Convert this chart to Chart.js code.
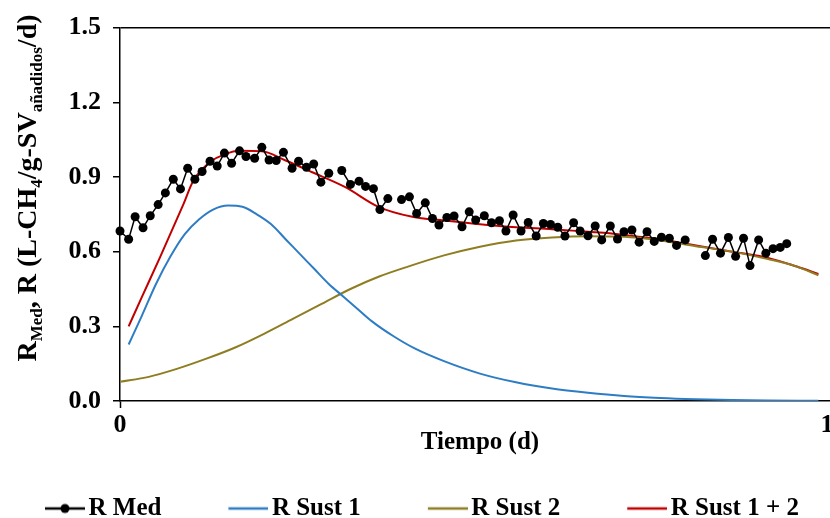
<!DOCTYPE html>
<html lang="es">
<head>
<meta charset="UTF-8">
<title>R Med y R Sust vs Tiempo</title>
<script src="https://cdn.jsdelivr.net/npm/chart.js"></script>
<style>
  html, body { margin: 0; padding: 0; background: #fff; overflow: hidden; }
  #wrap { width: 870px; height: 518px; }
</style>
</head>
<body>
<div id="wrap"><canvas id="chart"></canvas></div>
<script>
// measured rate (null = missing day)
const medDays = [0.0, 1.2, 2.1, 3.2, 4.2, 5.3, 6.3, 7.4, 8.4, 9.4, 10.4, 11.4, 12.5, 13.5, 14.5, 15.5, 16.6, 17.5, 18.7, 19.7,
  20.7, 21.7, 22.7, 23.9, 24.8, 25.9, 26.9, 27.9, 29.0, 29.9, 30.8, 32.0, 33.2, 34.1, 35.2, 36.1, 37.2, 38.1, 39.1, 40.2,
  41.2, 42.4, 43.4, 44.3, 45.4, 46.4, 47.5, 48.5, 49.4, 50.6, 51.6, 52.7, 53.6, 54.6, 55.7, 56.7, 57.8, 58.8, 59.8, 60.8,
  61.8, 63.0, 63.9, 65.0, 66.0, 66.9, 68.1, 69.1, 70.0, 71.1, 72.1, 73.2, 74.2, 75.2, 76.3, 77.3, 78.5, 79.9, 81.3, 82.3,
  83.4, 84.5, 85.5, 86.6, 87.5, 88.7, 89.7, 90.7, 91.7, 92.6];
const medValues = [0.683, 0.650, 0.740, 0.696, 0.744, 0.789, 0.836, 0.891, 0.852, 0.935, 0.891, 0.922, 0.963, 0.944, 0.996, 0.955, 1.005, 0.982, 0.975, 1.019,
  0.968, 0.966, 0.999, 0.935, 0.963, 0.939, 0.952, 0.879, 0.915, null, 0.926, 0.870, 0.883, 0.862, 0.853, 0.769, 0.813, null, 0.809, 0.820,
  0.753, 0.796, 0.733, 0.707, 0.737, 0.743, 0.700, 0.760, 0.727, 0.744, 0.716, 0.724, 0.683, 0.747, 0.683, 0.717, 0.663, 0.713, 0.709, 0.698,
  0.663, 0.716, 0.683, 0.664, 0.703, 0.647, 0.703, 0.651, 0.680, 0.687, 0.638, 0.680, 0.641, 0.658, 0.654, 0.625, 0.647, null, 0.584, 0.650,
  0.594, 0.657, 0.581, 0.654, 0.544, 0.647, 0.594, 0.612, 0.617, 0.632];

// model curves
const sust1Days = [1.2, 3, 5, 7, 9, 11, 13, 15, 17, 19, 21, 23, 25, 27, 29, 31, 33, 35, 38, 41, 45, 50, 55, 60, 65, 70, 75, 80, 85, 90, 97];
const sust1Values = [0.227, 0.34, 0.47, 0.58, 0.67, 0.73, 0.77, 0.785, 0.78, 0.75, 0.71, 0.65, 0.59, 0.53, 0.47, 0.42, 0.37, 0.32, 0.26, 0.21,
  0.16, 0.11, 0.075, 0.05, 0.033, 0.02, 0.012, 0.007, 0.004, 0.002, 0.001];
const sust2Days = [0, 4, 8, 12, 16, 20, 24, 28, 32, 36, 40, 45, 50, 55, 60, 65, 70, 75, 80, 85, 90, 94, 97];
const sust2Values = [0.077, 0.097, 0.13, 0.17, 0.215, 0.27, 0.33, 0.39, 0.45, 0.50, 0.54, 0.585, 0.62, 0.645, 0.657, 0.662, 0.66, 0.645, 0.622, 0.60, 0.57, 0.54, 0.505];
const sumDays = [1.2, 3, 5.6, 8.8, 10.2, 12.8, 14.5, 16.5, 19.7, 23, 26.7, 31.3, 35.9, 40.6, 45, 50, 55, 60, 65, 68, 72, 76, 80, 85, 90, 94, 97];
const sumValues = [0.30, 0.415, 0.58, 0.79, 0.886, 0.966, 0.99, 1.005, 1.003, 0.966, 0.919, 0.859, 0.78, 0.74, 0.725, 0.71, 0.698, 0.69, 0.68, 0.674,
  0.66, 0.645, 0.625, 0.60, 0.575, 0.54, 0.51];

const seriesNames = ['R Med', 'R Sust 1', 'R Sust 2', 'R Sust 1 + 2'];
const yTicks = [0, 0.3, 0.6, 0.9, 1.2, 1.5];
const xTicks = [0, 100];
const xTitle = 'Tiempo (d)';
// y title pieces: [text, isSubscript]
const yTitleParts = [['R', 0], ['Med', 1], [', R (L-CH', 0], ['4', 1], ['/g-SV', 0], ['añadidos', 1], ['/d)', 0]];

const toPoints = (xs, ys) => xs.map((x, i) => ({ x: x, y: ys[i] }));

const FONT = '"Liberation Serif", "Times New Roman", serif';
const LEGEND_BOX = 92;

// line (+ dot) icon for the legend, sitting at the right end of the box
function legendIcon(color, withDot) {
  const c = document.createElement('canvas');
  c.width = LEGEND_BOX + 18; c.height = 14;
  const g = c.getContext('2d');
  const x0 = c.width - 40;
  g.strokeStyle = color;
  g.lineWidth = 2.5;
  g.beginPath(); g.moveTo(x0, 7); g.lineTo(c.width, 7); g.stroke();
  if (withDot) {
    g.fillStyle = color;
    g.beginPath(); g.arc(x0 + 20, 7, 4.5, 0, Math.PI * 2); g.fill();
  }
  return c;
}

const yTitlePlugin = {
  id: 'yTitle',
  afterLayout(chart) {
    // nudge the legend row to where it sits in the original figure
    const lg = chart.legend;
    lg.left -= 22; lg.right -= 22;
    lg.top += 13; lg.bottom += 13;
  },
  afterDraw(chart) {
    const ctx = chart.ctx;
    const big = 'bold 28px ' + FONT, small = 'bold 17px ' + FONT;
    ctx.save();
    let total = 0;
    yTitleParts.forEach(p => { ctx.font = p[1] ? small : big; total += ctx.measureText(p[0]).width; });
    ctx.translate(36, 188);
    ctx.rotate(-Math.PI / 2);
    ctx.fillStyle = '#000';
    ctx.textBaseline = 'alphabetic';
    let x = -total / 2;
    yTitleParts.forEach(p => {
      ctx.font = p[1] ? small : big;
      ctx.fillText(p[0], x, p[1] ? 6 : 0);
      x += ctx.measureText(p[0]).width;
    });
    ctx.restore();
  }
};

const colors = ['#000000', '#2e7dc4', '#8f7d22', '#c00000'];

new Chart(document.getElementById('chart'), {
  type: 'line',
  data: {
    datasets: [{
      label: seriesNames[0],
      data: toPoints(medDays, medValues),
      borderColor: colors[0],
      backgroundColor: colors[0],
      borderWidth: 1.5,
      pointRadius: 4.5,
      pointBackgroundColor: colors[0],
      pointBorderWidth: 0,
      spanGaps: false,
      clip: false,
      tension: 0
    }, {
      label: seriesNames[1],
      data: toPoints(sust1Days, sust1Values),
      borderColor: colors[1],
      borderWidth: 2,
      pointRadius: 0,
      cubicInterpolationMode: 'monotone'
    }, {
      label: seriesNames[2],
      data: toPoints(sust2Days, sust2Values),
      borderColor: colors[2],
      borderWidth: 2,
      pointRadius: 0,
      cubicInterpolationMode: 'monotone'
    }, {
      label: seriesNames[3],
      data: toPoints(sumDays, sumValues),
      borderColor: colors[3],
      borderWidth: 2,
      pointRadius: 0,
      cubicInterpolationMode: 'monotone'
    }]
  },
  options: {
    responsive: true,
    maintainAspectRatio: false,
    animation: false,
    events: [],
    layout: { padding: { top: 24, right: 30, left: 0, bottom: 0 } },
    scales: {
      x: {
        type: 'linear',
        min: 0,
        max: 100,
        afterBuildTicks: s => { s.ticks = xTicks.map(v => ({ value: v })); },
        afterFit: s => { s.height = 76; },
        ticks: { color: '#000', padding: 2, maxRotation: 0, font: { family: FONT, size: 26, weight: 'bold' } },
        grid: { drawOnChartArea: false, tickLength: 7, tickColor: '#000', tickWidth: 1.5 },
        border: { color: '#000', width: 1.5 },
        title: { display: true, text: xTitle, color: '#000', padding: { top: 0, bottom: 19 }, font: { family: FONT, size: 25, weight: 'bold' } }
      },
      y: {
        min: 0,
        max: 1.5,
        afterBuildTicks: s => { s.ticks = yTicks.map(v => ({ value: v })); },
        afterFit: s => { s.width = 120; },
        ticks: { color: '#000', padding: 12, callback: v => v.toFixed(1), font: { family: FONT, size: 26, weight: 'bold' } },
        grid: {
          color: c => (c.tick && Math.abs(c.tick.value - 1.5) < 1e-6) ? '#000' : 'rgba(0,0,0,0)',
          lineWidth: 1.5,
          tickLength: 7,
          tickColor: '#000',
          tickWidth: 1.5
        },
        border: { color: '#000', width: 1.5 }
      }
    },
    plugins: {
      tooltip: { enabled: false },
      legend: {
        position: 'bottom',
        align: 'start',
        labels: {
          usePointStyle: true,
          pointStyleWidth: LEGEND_BOX,
          padding: 6,
          color: '#000',
          font: { family: FONT, size: 25, weight: 'bold' },
          generateLabels: chart => chart.data.datasets.map((ds, i) => ({
            text: ds.label,
            pointStyle: legendIcon(ds.borderColor, i === 0),
            fillStyle: ds.borderColor,
            strokeStyle: ds.borderColor,
            lineWidth: 0,
            hidden: false,
            datasetIndex: i,
            fontColor: '#000'
          }))
        }
      }
    }
  },
  plugins: [yTitlePlugin]
});
</script>
</body>
</html>
